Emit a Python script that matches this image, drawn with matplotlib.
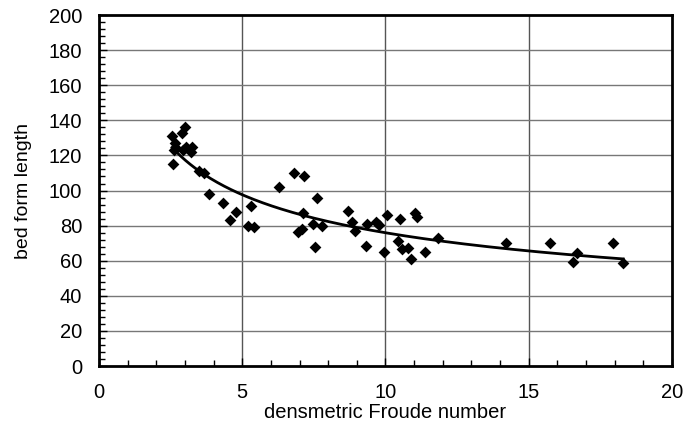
import numpy as np
import matplotlib
matplotlib.use("Agg")
import matplotlib.pyplot as plt
from matplotlib.ticker import MultipleLocator

plt.rcParams['font.family'] = ['Liberation Sans', 'DejaVu Sans']

froude = [2.55, 2.57, 2.62, 2.65, 2.70, 2.90, 3.00, 2.92, 3.02, 3.25, 3.20,
          3.50, 3.65, 3.85, 4.34, 4.57, 4.78, 5.21, 5.29, 5.41,
          6.28, 6.80, 7.14, 6.96, 7.07, 7.13, 7.48, 7.54, 7.60, 7.77,
          8.70, 8.82, 8.94, 9.34, 9.32, 9.67, 9.78, 9.95, 10.04,
          10.50, 10.45, 10.56, 10.80, 10.88, 11.03, 11.11, 11.38, 11.84,
          14.20, 15.74, 16.53, 16.70, 17.95, 18.30]
length = [131, 115, 123, 127, 124, 133, 136, 123, 125, 125, 122,
          111, 110, 98, 93, 83, 88, 80, 91, 79,
          102, 110, 108, 76.5, 78, 87, 81, 68, 95.5, 80,
          88.5, 82, 77, 81, 68.4, 82, 80.5, 65, 86,
          83.5, 71, 66.5, 67, 61, 87, 85, 65, 72.7,
          70.3, 70, 59, 64.6, 70.3, 58.5]

fig = plt.figure(figsize=(6.86, 4.30), dpi=100)
ax = fig.add_axes([0.1443, 0.1488, 0.8353, 0.8162])

ax.scatter(froude, length, marker='D', s=36, color='black', zorder=3, linewidths=0)

# power-law trendline
b, loga = np.polyfit(np.log(froude), np.log(length), 1)
xs = np.linspace(min(froude), max(froude), 200)
ax.plot(xs, np.exp(loga) * xs ** b, color='black', lw=2, zorder=2)

ax.set_xlim(0, 20)
ax.set_ylim(0, 200)
ax.xaxis.set_major_locator(MultipleLocator(5))
ax.xaxis.set_minor_locator(MultipleLocator(1))
ax.yaxis.set_major_locator(MultipleLocator(20))
ax.yaxis.set_minor_locator(MultipleLocator(4))
ax.tick_params(axis='both', which='both', direction='in', labelsize=14.5, color='black')
ax.tick_params(axis='both', which='major', length=6, width=1)
ax.tick_params(axis='both', which='minor', length=4, width=1)
ax.tick_params(axis='x', pad=12)
ax.tick_params(axis='y', pad=12)

for v in [5, 10, 15]:
    ax.axvline(v, color='#555555', lw=1, zorder=1)
for v in range(20, 200, 20):
    ax.axhline(v, color='#777777', lw=1, zorder=1)

for s in ax.spines.values():
    s.set_linewidth(2)
    s.set_color('black')

ax.set_xlabel('densmetric Froude number', fontsize=14.5, labelpad=1)
ax.set_ylabel('bed form length', fontsize=14, labelpad=12)

fig.savefig('out.png', dpi=100)
